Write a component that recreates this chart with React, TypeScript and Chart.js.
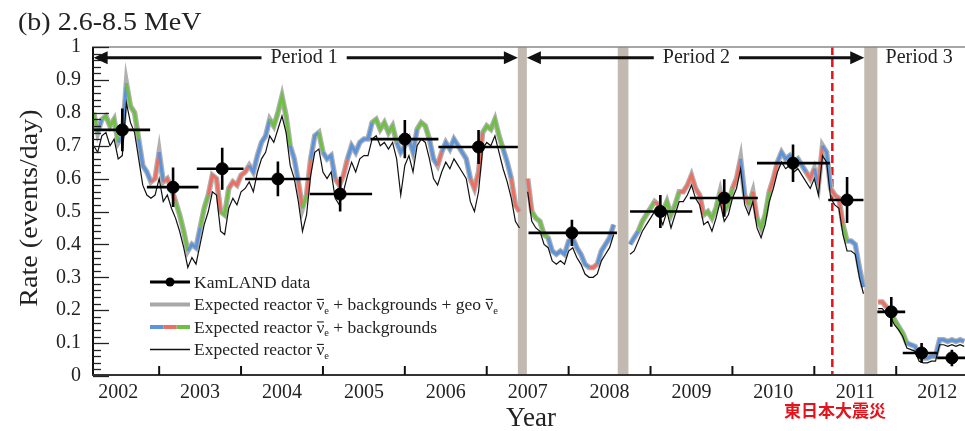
import React, { useEffect, useRef } from 'react';
import { Chart, registerables } from 'chart.js';
Chart.register(...registerables);

// ---------------- data ----------------
const STEP = 0.05;

// Period 1 (start 2002.20)
const p1Start = 2002.2;
const p1RB = [0.80,0.74,0.78,0.79,0.76,0.78,0.71,0.73,0.89,0.82,
 0.80,0.72,0.64,0.62,0.59,0.60,0.68,0.59,0.60,0.57,
 0.53,0.49,0.44,0.38,0.40,0.39,0.45,0.51,0.55,0.61,
 0.60,0.50,0.49,0.57,0.59,0.58,0.61,0.62,0.64,0.62,
 0.67,0.71,0.73,0.78,0.76,0.80,0.85,0.79,0.70,0.66,
 0.59,0.51,0.55,0.66,0.73,0.74,0.68,0.66,0.67,0.60,
 0.58,0.61,0.66,0.70,0.68,0.71,0.72,0.72,0.77,0.78,
 0.75,0.77,0.74,0.76,0.71,0.68,0.70,0.72,0.68,0.75,
 0.77,0.76,0.72,0.66,0.64,0.68,0.71,0.69,0.72,0.70,
 0.68,0.66,0.60,0.57,0.62,0.74,0.76,0.75,0.78,0.73,
 0.69,0.65,0.60,0.52,0.50];
const p1R = [0.70,0.68,0.73,0.74,0.70,0.72,0.66,0.67,0.83,0.77,
 0.74,0.66,0.58,0.55,0.54,0.55,0.60,0.53,0.55,0.51,
 0.48,0.44,0.39,0.33,0.36,0.34,0.40,0.46,0.50,0.56,
 0.55,0.44,0.43,0.51,0.54,0.52,0.56,0.57,0.59,0.56,
 0.62,0.66,0.68,0.73,0.71,0.75,0.79,0.74,0.64,0.60,
 0.53,0.44,0.49,0.61,0.68,0.69,0.62,0.60,0.62,0.54,
 0.52,0.56,0.61,0.65,0.62,0.66,0.67,0.67,0.72,0.73,
 0.70,0.71,0.69,0.71,0.66,0.55,0.64,0.67,0.62,0.70,
 0.72,0.71,0.66,0.60,0.58,0.62,0.65,0.63,0.66,0.64,
 0.62,0.60,0.53,0.50,0.56,0.69,0.71,0.70,0.73,0.68,
 0.63,0.59,0.54,0.47,0.45];
const p1Col = 'gbggggbbgggbbbrrbrrrgggbbbggrrrggrrrrrbbbbbgggggbbrgrbbgbbbrrrbbbbbbggggggbbbbbgggbbrbbbbbbbrrrgggggbbrrr';

// Period 2a (start 2007.50)
const p2aStart = 2007.5;
const p2aRB = [0.60,0.50,0.48,0.47,0.43,0.42,0.38,0.37,0.38,0.37,0.41,0.42,0.39,0.37,0.34,0.33,0.33,0.34,0.38,0.40,0.42,0.46];
const p2aR = [0.56,0.47,0.45,0.44,0.40,0.39,0.35,0.34,0.35,0.34,0.38,0.39,0.36,0.34,0.31,0.30,0.30,0.31,0.35,0.37,0.39,0.43];
const p2aCol = 'rggggbbbbbbbbbbrrbbbbg';

// Period 2b (start 2008.75)
const p2bStart = 2008.75;
const p2bRB = [0.40,0.42,0.44,0.47,0.49,0.51,0.53,0.52,0.50,0.53,
 0.49,0.52,0.56,0.56,0.58,0.61,0.57,0.55,0.49,0.50,
 0.48,0.51,0.56,0.50,0.52,0.57,0.60,0.66,0.55,0.52,
 0.56,0.48,0.45,0.49,0.56,0.60,0.65,0.68,0.66,0.67,
 0.65,0.66,0.64,0.62,0.60,0.63,0.58,0.70,0.68,0.57,
 0.55,0.54,0.46,0.41,0.41,0.40,0.33,0.27];
const p2bR = [0.37,0.38,0.41,0.44,0.46,0.48,0.50,0.49,0.46,0.50,
 0.45,0.49,0.53,0.53,0.55,0.58,0.54,0.52,0.46,0.47,
 0.44,0.48,0.53,0.47,0.49,0.54,0.57,0.63,0.52,0.49,
 0.53,0.45,0.42,0.46,0.53,0.57,0.62,0.65,0.63,0.64,
 0.62,0.63,0.61,0.59,0.57,0.60,0.55,0.67,0.65,0.54,
 0.52,0.51,0.43,0.38,0.38,0.37,0.30,0.25];
const p2bCol = 'bbggggrgggggrrrrrrggggrggrrbrgrgggrrbbbbbbbrrbrbbrrrgbbbbr';

// Period 3 (start 2011.78)
const p3Start = 2011.78;
const p3RB = [0.225,0.225,0.21,0.20,0.17,0.15,0.13,0.10,0.095,0.09,0.06,0.055,0.055,0.06,0.06,0.11,0.11,0.105,0.11,0.105,0.11,0.105];
const p3R = [0.205,0.205,0.19,0.18,0.155,0.14,0.12,0.085,0.08,0.075,0.045,0.04,0.04,0.045,0.045,0.095,0.095,0.09,0.095,0.09,0.095,0.09];
const p3Col = 'rrrggggbbbbbbbbbbbbbbb';

// KamLAND data points
const dataYear = [2002.55, 2003.17, 2003.77, 2004.45, 2005.21, 2006.00, 2006.90, 2008.04, 2009.12, 2009.90, 2010.74, 2011.40, 2011.94, 2012.31, 2012.68];
const dataRate = [0.748, 0.574, 0.630, 0.599, 0.553, 0.720, 0.696, 0.435, 0.500, 0.541, 0.647, 0.535, 0.195, 0.070, 0.055];
const rateErr = [0.065, 0.060, 0.064, 0.053, 0.053, 0.058, 0.052, 0.040, 0.050, 0.057, 0.057, 0.070, 0.045, 0.030, 0.025];
const binLo = [2002.18, 2002.85, 2003.46, 2004.05, 2004.84, 2005.58, 2006.41, 2007.51, 2008.75, 2009.48, 2010.30, 2011.17, 2011.77, 2012.08, 2012.50];
const binHi = [2002.89, 2003.48, 2004.03, 2004.84, 2005.60, 2006.41, 2007.38, 2008.59, 2009.51, 2010.31, 2011.19, 2011.60, 2012.11, 2012.50, 2012.88];

// shutdown bands, earthquake, periods
const bandStart = [2007.38, 2008.60, 2011.61];
const bandEnd = [2007.49, 2008.73, 2011.77];
const quakeYear = 2011.22;
const periodLabels = ['Period 1', 'Period 2', 'Period 3'];
const periodLabelYear = [2004.77, 2009.56, 2012.28];
const periodArrowStart = [2002.2, 2007.49];
const periodArrowEnd = [2007.38, 2011.61];
const arrowRate = 0.967;

// axes
const xMin = 2002.18;
const xMax = 2012.84;
const xTickYears = [2003, 2004, 2005, 2006, 2007, 2008, 2009, 2010, 2011, 2012];
const xLabelPos = [2002.5, 2003.5, 2004.5, 2005.5, 2006.5, 2007.5, 2008.5, 2009.5, 2010.5, 2011.5, 2012.5];
const xTickLabels = ['2002', '2003', '2004', '2005', '2006', '2007', '2008', '2009', '2010', '2011', '2012'];
const yTickValues = [0, 0.1, 0.2, 0.3, 0.4, 0.5, 0.6, 0.7, 0.8, 0.9, 1];
const yTickLabels = ['0', '0.1', '0.2', '0.3', '0.4', '0.5', '0.6', '0.7', '0.8', '0.9', '1'];

const COLORS: Record<string, string> = { b: '#5b93dc', r: '#ee6f61', g: '#6fbf45' };
const SERIF = '"Liberation Serif", "Times New Roman", serif';

// ---------------- build series ----------------
type P = { x: number; y: number | null };
const segs: [number, number[], number[], string][] = [
  [p1Start, p1RB, p1R, p1Col],
  [p2aStart, p2aRB, p2aR, p2aCol],
  [p2bStart, p2bRB, p2bR, p2bCol],
  [p3Start, p3RB, p3R, p3Col],
];
const rbPts: P[] = [];
const rPts: P[] = [];
const codes: string[] = [];
segs.forEach(([start, rbv, rv, col]) => {
  rbv.forEach((v, i) => {
    const xv = +(start + i * STEP).toFixed(3);
    rbPts.push({ x: xv, y: v });
    rPts.push({ x: xv, y: rv[i] });
    codes.push(col[i] || 'b');
  });
  const gx = +(start + rbv.length * STEP).toFixed(3);
  rbPts.push({ x: gx, y: null });
  rPts.push({ x: gx, y: null });
  codes.push('b');
});
const dataPts = dataYear.map((x, i) => ({ x, y: dataRate[i] }));

// ---------------- drawing helpers ----------------
function drawText(ctx: CanvasRenderingContext2D, text: string, x: number, y: number, font: string, color: string, align: CanvasTextAlign, sx = 1, rot = 0) {
  ctx.save();
  ctx.translate(x, y);
  if (rot) ctx.rotate(rot);
  ctx.scale(sx, 1);
  ctx.font = font;
  ctx.fillStyle = color;
  ctx.textAlign = align;
  ctx.textBaseline = 'middle';
  ctx.fillText(text, 0, 0);
  ctx.restore();
}

const NU = '\u0000NU';
function drawRich(ctx: CanvasRenderingContext2D, parts: string[], x: number, yMid: number, size: number, color: string) {
  ctx.save();
  ctx.fillStyle = color;
  ctx.strokeStyle = color;
  ctx.textAlign = 'left';
  ctx.textBaseline = 'alphabetic';
  const base = yMid + size * 0.33;
  let cx = x;
  for (const p of parts) {
    if (p === NU) {
      ctx.font = `${size}px ${SERIF}`;
      const w = ctx.measureText('\u03BD').width;
      ctx.fillText('\u03BD', cx, base);
      ctx.lineWidth = 1.1;
      ctx.beginPath();
      ctx.moveTo(cx + 0.5, base - size * 0.62);
      ctx.lineTo(cx + w - 0.5, base - size * 0.62);
      ctx.stroke();
      ctx.font = `${size * 0.6}px ${SERIF}`;
      ctx.fillText('e', cx + w, base + size * 0.2);
      cx += w + ctx.measureText('e').width;
    } else {
      ctx.font = `${size}px ${SERIF}`;
      ctx.fillText(p, cx, base);
      cx += ctx.measureText(p).width;
    }
  }
  ctx.restore();
}

const DATA_INDEX = 0;

const decorPlugin = {
  id: 'decor',
  beforeDatasetsDraw(chart: any) {
    const { ctx, chartArea: a, scales: { x } } = chart;
    ctx.save();
    ctx.fillStyle = '#c2bab0';
    bandStart.forEach((s, i) => {
      const x0 = x.getPixelForValue(s);
      const x1 = x.getPixelForValue(bandEnd[i]);
      ctx.fillRect(x0, a.top, x1 - x0, a.bottom - a.top);
    });
    ctx.strokeStyle = '#e3141b';
    ctx.lineWidth = 2.5;
    ctx.setLineDash([8, 4]);
    const qx = x.getPixelForValue(quakeYear);
    ctx.beginPath();
    ctx.moveTo(qx, a.top);
    ctx.lineTo(qx, a.bottom);
    ctx.stroke();
    ctx.restore();
  },
  beforeDatasetDraw(chart: any, args: any) {
    if (args.index !== DATA_INDEX) return;
    const { ctx, chartArea: a, scales: { x, y } } = chart;
    ctx.save();
    ctx.beginPath();
    ctx.rect(a.left, a.top, a.right - a.left, a.bottom - a.top);
    ctx.clip();
    ctx.strokeStyle = '#000';
    ctx.lineWidth = 2.6;
    dataYear.forEach((xv, i) => {
      const px = x.getPixelForValue(xv);
      const py = y.getPixelForValue(dataRate[i]);
      ctx.beginPath();
      ctx.moveTo(x.getPixelForValue(binLo[i]), py);
      ctx.lineTo(x.getPixelForValue(binHi[i]), py);
      ctx.moveTo(px, y.getPixelForValue(dataRate[i] - rateErr[i]));
      ctx.lineTo(px, y.getPixelForValue(dataRate[i] + rateErr[i]));
      ctx.stroke();
    });
    ctx.restore();
  },
  afterDraw(chart: any) {
    const { ctx, chartArea: a, scales: { x, y } } = chart;
    ctx.save();
    // frame
    ctx.strokeStyle = '#888';
    ctx.lineWidth = 1.5;
    ctx.beginPath();
    ctx.moveTo(a.left, a.top);
    ctx.lineTo(a.right, a.top);
    ctx.stroke();
    ctx.strokeStyle = '#111';
    ctx.lineWidth = 2;
    ctx.beginPath();
    ctx.moveTo(a.left + 1, a.top);
    ctx.lineTo(a.left + 1, a.bottom);
    ctx.stroke();
    ctx.strokeStyle = '#333';
    ctx.beginPath();
    ctx.moveTo(a.left, a.bottom - 1);
    ctx.lineTo(a.right, a.bottom - 1);
    ctx.stroke();
    // y inside ticks (minor every 0.02)
    ctx.strokeStyle = '#222';
    ctx.lineWidth = 1.3;
    for (let i = 0; i <= 50; i++) {
      const py = Math.round(y.getPixelForValue(i / 50)) + 0.5;
      const len = i % 5 === 0 ? 16 : 8;
      ctx.beginPath();
      ctx.moveTo(a.left + 1, py);
      ctx.lineTo(a.left + 1 + len, py);
      ctx.stroke();
    }
    // x inside ticks
    ctx.lineWidth = 2;
    ctx.strokeStyle = '#111';
    xTickYears.forEach((yr) => {
      const px = x.getPixelForValue(yr);
      ctx.beginPath();
      ctx.moveTo(px, a.bottom - 1);
      ctx.lineTo(px, a.bottom - 10);
      ctx.stroke();
    });
    // period arrows
    const ay = y.getPixelForValue(arrowRate);
    const pfont = `20px ${SERIF}`;
    ctx.font = pfont;
    periodLabels.forEach((lab, i) => {
      const lx = x.getPixelForValue(periodLabelYear[i]);
      drawText(ctx, lab, lx, ay, pfont, '#222', 'center');
      if (i >= periodArrowStart.length) return;
      ctx.font = pfont;
      const w = ctx.measureText(lab).width;
      const x0 = x.getPixelForValue(periodArrowStart[i]);
      const x1 = x.getPixelForValue(periodArrowEnd[i]);
      const head = 14, hh = 6.5;
      ctx.strokeStyle = '#111';
      ctx.fillStyle = '#111';
      ctx.lineWidth = 3;
      ctx.beginPath();
      ctx.moveTo(x0 + head - 1, ay);
      ctx.lineTo(lx - w / 2 - 9, ay);
      ctx.moveTo(lx + w / 2 + 9, ay);
      ctx.lineTo(x1 - head + 1, ay);
      ctx.stroke();
      ctx.beginPath();
      ctx.moveTo(x0, ay);
      ctx.lineTo(x0 + head, ay - hh);
      ctx.lineTo(x0 + head, ay + hh);
      ctx.closePath();
      ctx.fill();
      ctx.beginPath();
      ctx.moveTo(x1, ay);
      ctx.lineTo(x1 - head, ay - hh);
      ctx.lineTo(x1 - head, ay + hh);
      ctx.closePath();
      ctx.fill();
    });
    // titles
    drawText(ctx, '(b) 2.6-8.5 MeV', 18, 23, `25px ${SERIF}`, '#222', 'left', 1.12);
    drawText(ctx, 'Rate (events/day)', 30, 208, `26px ${SERIF}`, '#222', 'center', 1.08, -Math.PI / 2);
    drawText(ctx, 'Year', 531, 419, `27px ${SERIF}`, '#222', 'center');
    drawText(ctx, '東日本大震災', 835, 411, `bold 17px "Noto Sans CJK JP", sans-serif`, '#e3141b', 'center');
    // legend
    const rows = [282, 304.5, 327, 349.5];
    const lx0 = 150, lx1 = 190, tx = 194, fs = 17.5;
    ctx.strokeStyle = '#000';
    ctx.lineWidth = 3;
    ctx.beginPath();
    ctx.moveTo(lx0, rows[0]);
    ctx.lineTo(lx1, rows[0]);
    ctx.stroke();
    ctx.fillStyle = '#000';
    ctx.beginPath();
    ctx.arc((lx0 + lx1) / 2, rows[0], 4.5, 0, Math.PI * 2);
    ctx.fill();
    drawRich(ctx, ['KamLAND data'], tx, rows[0], fs, '#222');
    ctx.strokeStyle = '#a8a8a8';
    ctx.lineWidth = 4;
    ctx.beginPath();
    ctx.moveTo(lx0, rows[1]);
    ctx.lineTo(lx1, rows[1]);
    ctx.stroke();
    drawRich(ctx, ['Expected reactor ', NU, ' + backgrounds + geo ', NU], tx, rows[1], fs, '#222');
    const segW = (lx1 - lx0) / 3;
    ['b', 'r', 'g'].forEach((c, i) => {
      ctx.strokeStyle = COLORS[c];
      ctx.lineWidth = 4;
      ctx.beginPath();
      ctx.moveTo(lx0 + i * segW, rows[2]);
      ctx.lineTo(lx0 + (i + 1) * segW, rows[2]);
      ctx.stroke();
    });
    drawRich(ctx, ['Expected reactor ', NU, ' + backgrounds'], tx, rows[2], fs, '#222');
    ctx.strokeStyle = '#111';
    ctx.lineWidth = 1.5;
    ctx.beginPath();
    ctx.moveTo(lx0, rows[3]);
    ctx.lineTo(lx1, rows[3]);
    ctx.stroke();
    drawRich(ctx, ['Expected reactor ', NU], tx, rows[3], fs, '#222');
    ctx.restore();
  },
};

export default function App() {
  const ref = useRef<HTMLCanvasElement>(null);
  useEffect(() => {
    if (!ref.current) return;
    Chart.defaults.font.family = SERIF;
    const chart = new Chart(ref.current, {
      type: 'line',
      data: {
        datasets: [
          {
            label: 'KamLAND data',
            data: dataPts,
            showLine: false,
            pointRadius: 6,
            pointHoverRadius: 6,
            pointStyle: 'circle',
            backgroundColor: '#000',
            borderColor: '#000',
            order: 0,
          },
          {
            label: 'Expected reactor',
            data: rPts,
            borderColor: '#111',
            borderWidth: 1.2,
            pointRadius: 0,
            spanGaps: false,
            order: 1,
          },
          {
            label: 'Expected reactor + backgrounds',
            data: rbPts,
            borderColor: COLORS.b,
            borderWidth: 3,
            pointRadius: 0,
            spanGaps: false,
            segment: {
              borderColor: (c: any) => COLORS[codes[c.p0DataIndex]] || COLORS.b,
            },
            order: 2,
          },
          {
            label: 'Expected reactor + backgrounds + geo',
            data: rbPts,
            borderColor: '#b0b0b0',
            borderWidth: 5.5,
            pointRadius: 0,
            spanGaps: false,
            order: 3,
          },
        ] as any,
      },
      options: {
        responsive: false,
        animation: false,
        devicePixelRatio: 1,
        layout: { autoPadding: false, padding: { top: 47, left: 0, right: 0, bottom: 0 } },
        plugins: { legend: { display: false }, tooltip: { enabled: false }, title: { display: false } },
        events: [],
        scales: {
          x: {
            type: 'linear',
            min: xMin,
            max: xMax,
            afterBuildTicks: (s: any) => { s.ticks = xLabelPos.map((v) => ({ value: v })); },
            afterFit: (s: any) => { s.height = 55; s.paddingLeft = 0; s.paddingRight = 0; },
            grid: { display: false, drawTicks: false },
            border: { display: false },
            ticks: {
              autoSkip: false,
              maxRotation: 0,
              padding: 5,
              color: '#222',
              font: { size: 20, family: SERIF },
              callback: (_v: any, i: number) => xTickLabels[i],
            },
          },
          y: {
            type: 'linear',
            min: 0,
            max: 1,
            afterBuildTicks: (s: any) => { s.ticks = yTickValues.map((v) => ({ value: v })); },
            afterFit: (s: any) => { s.width = 92; },
            grid: { display: false, drawTicks: false },
            border: { display: false },
            ticks: {
              padding: 11,
              color: '#222',
              font: { size: 20, family: SERIF },
              callback: (_v: any, i: number) => yTickLabels[i],
            },
          },
        },
      } as any,
      plugins: [decorPlugin],
    });
    return () => chart.destroy();
  }, []);
  return (
    <div style={{ position: 'absolute', left: 0, top: 0, width: 965, height: 431, background: '#fff' }}>
      <canvas ref={ref} width={965} height={431} />
    </div>
  );
}
